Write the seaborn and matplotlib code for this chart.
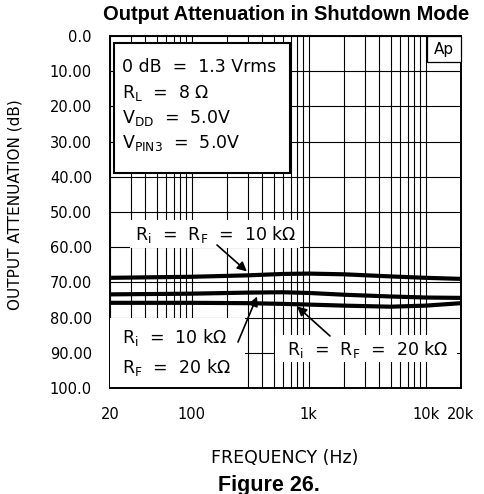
import numpy as np
import pandas as pd
import matplotlib
matplotlib.use("Agg")
import matplotlib.pyplot as plt
from matplotlib.patches import Rectangle
import seaborn as sns

# ---- data ----
freq_hz = [20, 100, 300, 600, 1000, 2000, 5000, 10000, 20000]
atten_ri10_rf10 = [68.7, 68.4, 68.0, 67.6, 67.5, 67.7, 68.3, 68.7, 69.0]
atten_ri10_rf20 = [73.4, 73.2, 72.9, 72.8, 73.0, 73.5, 74.0, 74.3, 74.4]
atten_ri20_rf20 = [75.8, 75.8, 75.9, 76.1, 76.3, 76.6, 76.9, 76.6, 75.9]
series_names = ["Ri=RF=10k", "Ri=10k RF=20k", "Ri=RF=20k"]
x_major = [20, 100, 1000, 10000, 20000]
x_major_labels = ["20", "100", "1k", "10k", "20k"]
y_ticks = [0, 10, 20, 30, 40, 50, 60, 70, 80, 90, 100]
y_tick_labels = ["0.0", "10.00", "20.00", "30.00", "40.00", "50.00",
                 "60.00", "70.00", "80.00", "90.00", "100.0"]

df = pd.concat([
    pd.DataFrame({"freq": freq_hz, "atten": vals, "config": name})
    for name, vals in zip(series_names, [atten_ri10_rf10, atten_ri10_rf20, atten_ri20_rf20])
])

sns.set_style("white")
plt.rcParams["font.family"] = ["DejaVu Sans"]
plt.rcParams["mathtext.fontset"] = "dejavusans"
for k in ["text.color", "axes.labelcolor", "xtick.color", "ytick.color",
          "axes.edgecolor", "xtick.labelcolor", "ytick.labelcolor"]:
    plt.rcParams[k] = "black"

fig = plt.figure(figsize=(4.84, 4.94), dpi=100)
W, H = 484, 494
x0, x1, yt, yb = 110, 461, 36, 388
ax = fig.add_axes([x0 / W, 1 - yb / H, (x1 - x0) / W, (yb - yt) / H])

sns.lineplot(data=df, x="freq", y="atten", hue="config", palette=["black"] * 3,
             legend=False, linewidth=3.0, ax=ax, zorder=4)

ax.set_xscale("log")
ax.set_xlim(20, 20000)
ax.set_ylim(100, 0)
minor = [m * 10 ** e for e in range(1, 5) for m in range(2, 10)]
minor = [v for v in minor if 20 < v < 20000 and v not in x_major]
ax.set_xticks(x_major)
ax.set_xticklabels(x_major_labels)
ax.set_xticks(minor, minor=True)
ax.xaxis.set_minor_formatter(matplotlib.ticker.NullFormatter())
ax.set_yticks(y_ticks)
ax.set_yticklabels(y_tick_labels)
ax.grid(True, which="both", color="black", linewidth=0.8)
ax.tick_params(axis="both", which="both", length=0, labelsize=10.5, labelcolor="black")
ax.tick_params(axis="x", pad=14)
ax.tick_params(axis="y", pad=13)
for s in ax.spines.values():
    s.set_color("black")
    s.set_linewidth(1.4)
ax.set_xlabel("")
ax.set_ylabel("")


def fx(px):
    return (px - x0) / (x1 - x0)


def fy(py):
    return (yb - py) / (yb - yt)


def white_box(l, t, r, b, edge=None, lw=0.0):
    rect = Rectangle((fx(l), fy(b)), fx(r) - fx(l), fy(t) - fy(b), transform=ax.transAxes,
                     facecolor="white", edgecolor=edge if edge else "white",
                     linewidth=lw, zorder=3, clip_on=False)
    ax.add_patch(rect)


FS = 12.5
# parameter box
white_box(114, 43, 290, 173, edge="black", lw=1.5)
params = ["0 dB  =  1.3 Vrms", r"R$_\mathregular{L}$  =  8 Ω",
          r"V$_\mathregular{DD}$  =  5.0V", r"V$_\mathregular{PIN3}$  =  5.0V"]
for txt, base in zip(params, [71.7, 98, 123, 148]):
    ax.text(fx(122), fy(base), txt, transform=ax.transAxes, fontsize=FS,
            ha="left", va="baseline", zorder=5)

# Ap box
white_box(427, 36, 461, 62, edge="black", lw=0.9)
ax.text(fx(444), fy(49), "Ap", transform=ax.transAxes, fontsize=11,
        ha="center", va="center", zorder=5)

# annotation 1
white_box(130, 220, 300, 248)
ax.text(fx(216), fy(234), r"R$_\mathregular{i}$  =  R$_\mathregular{F}$  =  10 kΩ",
        transform=ax.transAxes, fontsize=FS, ha="center", va="center", zorder=5)
arrow = dict(arrowstyle="-|>", color="black", lw=1.2, mutation_scale=14,
             shrinkA=0, shrinkB=0)
ax.annotate("", xy=(296, 66.9), xycoords="data",
            xytext=(fx(217), fy(245)), textcoords="axes fraction",
            arrowprops=arrow, zorder=6)

# annotation 2
white_box(110, 318, 245, 387)
ax.text(fx(122), fy(337), r"R$_\mathregular{i}$  =  10 kΩ", transform=ax.transAxes,
        fontsize=FS, ha="left", va="center", zorder=5)
ax.text(fx(122), fy(368), r"R$_\mathregular{F}$  =  20 kΩ", transform=ax.transAxes,
        fontsize=FS, ha="left", va="center", zorder=5)
ax.annotate("", xy=(361, 74.0), xycoords="data",
            xytext=(fx(238), fy(342)), textcoords="axes fraction",
            arrowprops=arrow, zorder=6)

# annotation 3
white_box(275, 335, 457, 362)
ax.text(fx(368), fy(350), r"R$_\mathregular{i}$  =  R$_\mathregular{F}$  =  20 kΩ",
        transform=ax.transAxes, fontsize=FS, ha="center", va="center", zorder=5)
ax.annotate("", xy=(793, 76.8), xycoords="data",
            xytext=(fx(330), fy(336)), textcoords="axes fraction",
            arrowprops=arrow, zorder=6)

# labels
fig.text(286 / W, 1 - 14 / H, "Output Attenuation in Shutdown Mode",
         fontsize=14.5, fontweight="bold", family=["Liberation Sans"],
         ha="center", va="center")
fig.text(285 / W, 1 - 458 / H, "FREQUENCY (Hz)", fontsize=12.5,
         ha="center", va="center")
fig.text(269 / W, 1 - 485 / H, "Figure 26.", fontsize=15.5, fontweight="bold",
         family=["Liberation Sans"], ha="center", va="center")
fig.text(15 / W, 1 - 205 / H, "OUTPUT ATTENUATION (dB)", fontsize=11,
         rotation=90, ha="center", va="center")

fig.savefig("out.png", dpi=100)
